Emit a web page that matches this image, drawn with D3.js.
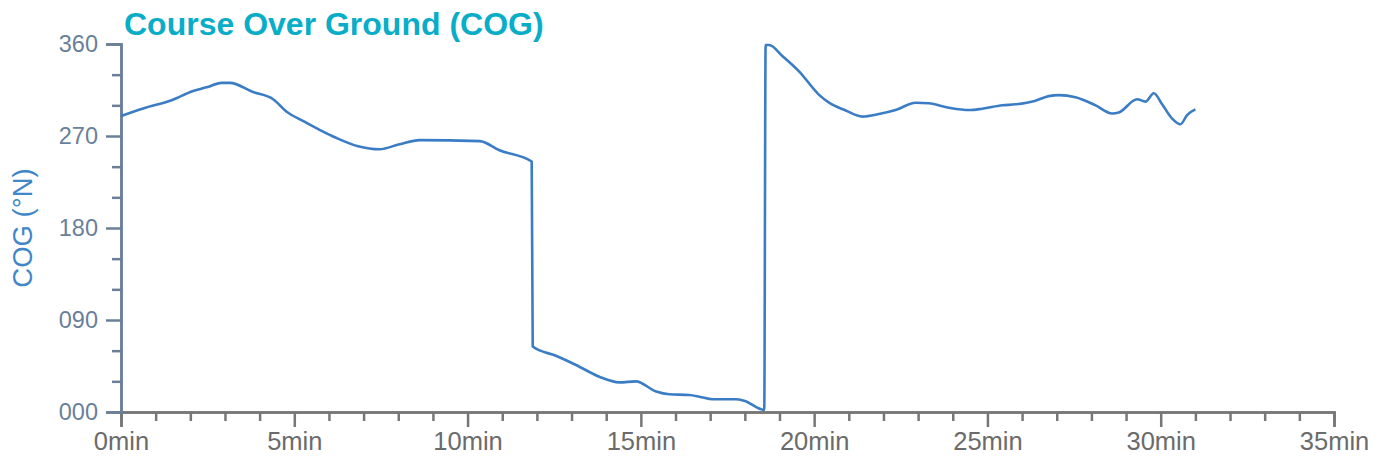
<!DOCTYPE html>
<html><head><meta charset="utf-8">
<script src="https://cdn.jsdelivr.net/npm/d3@7"></script>
<style>body{margin:0;background:#fff}svg{display:block;font-family:"Liberation Sans",Arial,sans-serif}</style>
</head><body>
<svg id="c" width="1386" height="463"></svg>
<script>
// Time in minutes
const times = [0,0.64,1.46,2.08,2.47,2.9,3.14,3.81,4.39,4.77,5.25,5.73,6.22,6.84,7.46,8.04,8.62,10.35,10.92,11.85,
  11.88,12.55,13.13,13.8,14.38,14.86,15.44,15.82,16.4,16.69,17.07,17.74,17.98,18.56,
  18.6,18.7,19.09,19.57,20.15,20.43,20.91,21.39,21.87,22.35,22.93,23.31,23.89,24.47,24.85,25.43,25.81,26.39,26.77,27.06,27.54,28.12,28.6,28.79,29.32,29.56,29.8,30.04,30.33,30.57,30.76,31.0];
// COG in degrees
const cog = [289.6,297,305,314,317.6,322,322,313,306,294,284.7,276,268,260,257,262,266,265,256,245,
  64,55,46,34.5,29,30,20,17.3,16.6,15,12.4,12.4,11,2,
  359,359,348,333,310,302.6,295,289,291.5,295.4,302.6,302,297.7,295.4,296.7,300,301,304.6,309,310,308,300,292,293,306,303.6,311.8,301,287,281.5,290.5,296];
const yTicks = [0,90,180,270,360];
const xTicks = [0,5,10,15,20,25,30,35];
const titleText = "Course Over Ground (COG)";
const yTitle = "COG (°N)";

const m = {l:121, r:52, t:44, b:51};
const W = 1386, H = 463;
const svg = d3.select("#c");
const x = d3.scaleLinear().domain([0,35]).range([m.l, W-m.r]);
const y = d3.scaleLinear().domain([0,360]).range([H-m.b, m.t]);

// y axis minor ticks
const gy = svg.append("g").attr("transform",`translate(${m.l},0)`);
gy.call(d3.axisLeft(y).tickValues(d3.range(0,361,30)).tickSize(9).tickFormat(""));
gy.call(g=>g.selectAll(".tick").filter(d=>d%90===0).remove());
const gy2 = svg.append("g").attr("transform",`translate(${m.l},0)`);
gy2.call(d3.axisLeft(y).tickValues(yTicks).tickSize(15).tickPadding(8).tickFormat(d3.format("03d")));
[gy,gy2].forEach(g=>{
  g.select(".domain").attr("stroke","#6b7f99").attr("stroke-width",2.5);
  g.selectAll(".tick line").attr("stroke","#6b7f99").attr("stroke-width",2.5);
});
gy2.selectAll(".tick text").attr("fill","#6a7f99").style("font-size","23.5px");

// x axis
const gx = svg.append("g").attr("transform",`translate(0,${H-m.b})`);
gx.call(d3.axisBottom(x).tickValues(d3.range(0,36,1).filter(d=>d%5!==0)).tickSize(9).tickFormat(""));
const gx2 = svg.append("g").attr("transform",`translate(0,${H-m.b})`);
gx2.call(d3.axisBottom(x).tickValues(xTicks).tickSize(15).tickPadding(5).tickFormat(d=>d+"min"));
[gx,gx2].forEach(g=>{
  g.select(".domain").attr("stroke","#777").attr("stroke-width",2.5);
  g.selectAll(".tick line").attr("stroke","#777").attr("stroke-width",2.5);
});
gx2.selectAll(".tick text").attr("fill","#6b6b6b").style("font-size","25.5px");
gy.raise(); gy2.raise();

// line
const data = times.map((t,i)=>({t, v:cog[i]}));
svg.append("path").datum(data)
  .attr("fill","none").attr("stroke","#3b7dc4").attr("stroke-width",2.6)
  .attr("stroke-linejoin","round")
  .attr("d", d3.line().x(d=>x(d.t)).y(d=>y(d.v)).curve(d3.curveMonotoneX));

// title
svg.append("text").attr("x",124).attr("y",35)
  .attr("fill","#0aadc8").style("font-size","32px").style("font-weight","bold")
  .text(titleText);
// y title
svg.append("text").attr("transform",`translate(32,${(m.t+H-m.b)/2}) rotate(-90)`)
  .attr("text-anchor","middle").attr("fill","#3f87c9").style("font-size","27.5px")
  .text(yTitle);
</script>
</body></html>
